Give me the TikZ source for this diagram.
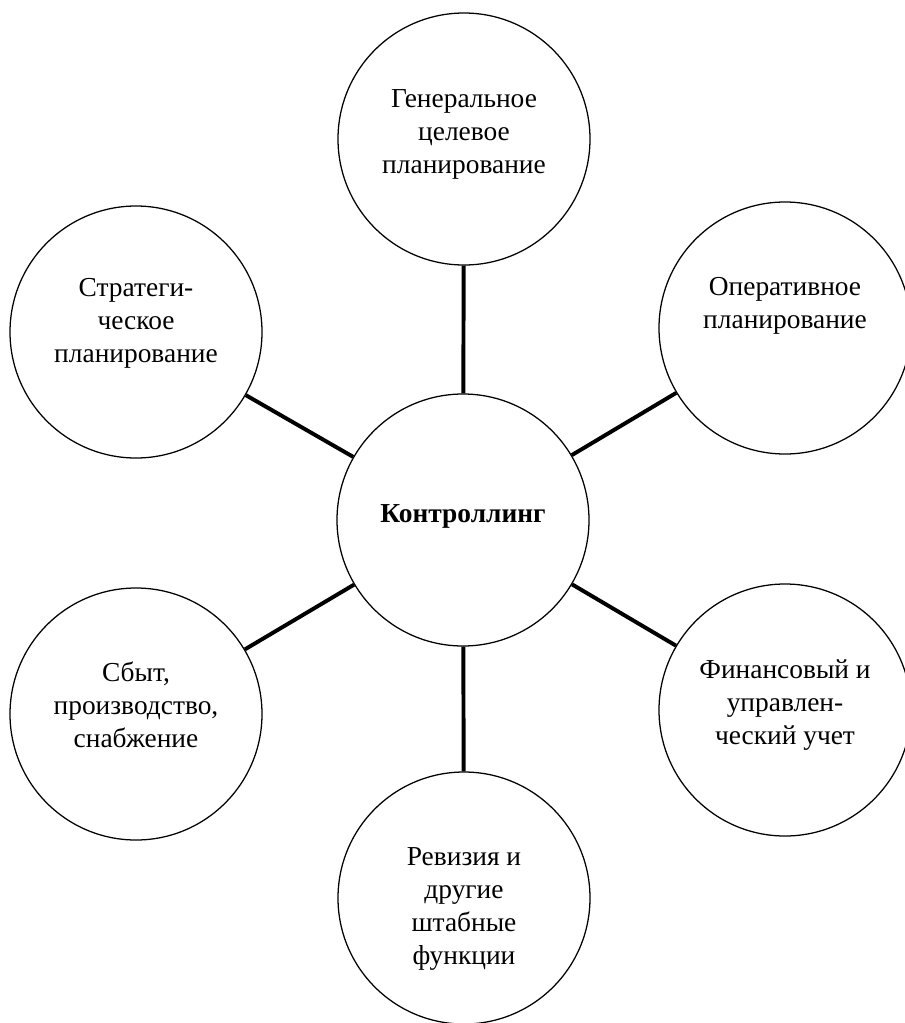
\documentclass[tikz,border=0pt]{standalone}
\usepackage{fontspec}
\setmainfont{Liberation Serif}
\usetikzlibrary{positioning}

\begin{document}
\begin{tikzpicture}[
      x = 1cm, y = 1cm,
      blob/.style = {circle, draw = black, line width = .9pt, fill = white,
                     minimum size = 6.3cm, inner sep = 0pt},
      txt/.style  = {align = center, inner sep = 0pt,
                     font = \fontsize{19.5}{23.5}\selectfont},
      link/.style = {draw = black, line width = 2.8pt}
    ]
  \useasboundingbox (0,0) rectangle (22.6,-25.575);

  % circles ---------------------------------------------------------------
  \node[blob] (ctl) at (11.575,-13.00) {};
  \node[blob] (gen) at (11.60,-3.475) {};
  \node[blob] (str) at (3.40,-8.30) {};
  \node[blob] (opr) at (19.625,-8.20) {};
  \node[blob] (sbt) at (3.40,-17.85) {};
  \node[blob] (fin) at (19.625,-17.75) {};
  \node[blob] (rev) at (11.60,-22.45) {};

  % texts -----------------------------------------------------------------
  \node[txt, font = \fontsize{19.5}{23.5}\selectfont\bfseries] (ctlt)
        at ([yshift = 0.10cm]ctl.center) {Контроллинг};
  \node[txt] (gent) at ([yshift = 0.12cm]gen.center)
        {Генеральное\\целевое\\планирование};
  \node[txt] (strt) at ([yshift = 0.22cm]str.center)
        {Стратеги-\\ческое\\планирование};
  \node[txt] (oprt) at ([yshift = 0.55cm]opr.center)
        {Оперативное\\планирование};
  \node[txt] (sbtt) at ([yshift = 0.22cm]sbt.center)
        {Сбыт,\\производство,\\снабжение};
  \node[txt] (fint) at ([yshift = 0.12cm]fin.center)
        {Финансовый и\\управлен-\\ческий учет};
  \node[txt] (revt) at ([yshift = -0.28cm]rev.center)
        {Ревизия и\\другие\\штабные\\функции};

  % links -----------------------------------------------------------------
  \draw[link] (ctl) -- (gen);
  \draw[link] (ctl) -- (str);
  \draw[link] (ctl) -- (opr);
  \draw[link] (ctl) -- (sbt);
  \draw[link] (ctl) -- (fin);
  \draw[link] (ctl) -- (rev);

\end{tikzpicture}
\end{document}
